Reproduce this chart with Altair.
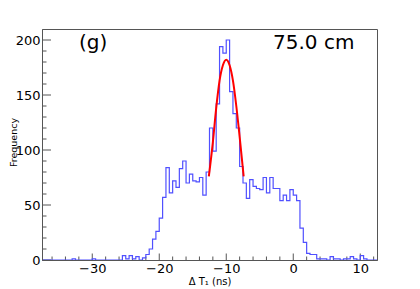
import altair as alt
import numpy as np
import pandas as pd

# ---- data ----
bin_width = 0.5
x_min, x_max = -37.5, 12.5
counts = [
    0, 0, 0, 0, 0, 0, 0, 0, 0, 1,
    0, 0, 0, 0, 0, 1, 0, 0, 0, 0,
    0, 0, 0, 0, 4, 1, 4, 1, 3, 0,
    2, 5, 10, 19, 26, 38, 57, 84, 61, 72,
    66, 83, 90, 70, 78, 72, 71, 75, 59, 80,
    120, 99, 142, 194, 188, 200, 153, 133, 120, 85,
    70, 56, 73, 67, 65, 64, 75, 61, 75, 65,
    65, 54, 59, 54, 64, 59, 54, 29, 16, 6,
    5, 5, 1, 1, 1, 0, 3, 1, 1, 0,
    1, 1, 3, 1, 0, 4, 1, 0, 0, 0,
]
fit_x = [-12.6, -12.0, -11.5, -11.0, -10.5, -10.0, -9.5, -9.0, -8.5, -8.0, -7.4]
fit_y = [76, 107, 138, 163, 177, 182, 177, 163, 140, 112, 76]

x_labels = [-30, -20, -10, 0, 10]
x_minor = [-36, -34, -32, -28, -26, -24, -22, -18, -16, -14, -12, -8, -6, -4, -2, 2, 4, 6, 8, 12]
y_labels = [0, 50, 100, 150, 200]
y_minor = [10, 20, 30, 40, 60, 70, 80, 90, 110, 120, 130, 140, 160, 170, 180, 190]

label_text = "(g)"
distance_text = "75.0 cm"
x_title = "Δ T₁ (ns)"
y_title = "Frequency"

# ---- tables ----
edges = x_min + bin_width * np.arange(len(counts) + 1)
hist_df = pd.DataFrame({"x": edges, "n": counts + [counts[-1]]})
fit_df = pd.DataFrame({"x": fit_x, "n": fit_y})

W, H = 335, 231
FONT = "DejaVu Sans"
AX = "#555555"

xs = alt.Scale(domain=[x_min, x_max], nice=False, zero=False)
ys = alt.Scale(domain=[0, 210], nice=False, zero=False)

x_axis = alt.Axis(values=x_labels, ticks=False, tickSize=0, grid=False,
                  labelFont=FONT, labelFontSize=13, labelColor="black", labelPadding=2,
                  domainColor=AX, domainWidth=1, zindex=1,
                  title=x_title, titleFont=FONT, titleFontSize=10, titleFontWeight="normal",
                  titleColor="black", titleY=24, titleBaseline="alphabetic")
y_axis = alt.Axis(values=y_labels, ticks=False, tickSize=0, grid=False,
                  labelFont=FONT, labelFontSize=13, labelColor="black", labelPadding=2,
                  domainColor=AX, domainWidth=1, zindex=1,
                  title=y_title, titleFont=FONT, titleFontSize=9.5, titleFontWeight="normal",
                  titleColor="black", titleAngle=270, titleX=-29, titleY=113,
                  titleAlign="center", titleBaseline="middle")

hist = alt.Chart(hist_df).mark_line(interpolate="step-after", color="#5050ff", strokeWidth=1.2).encode(
    x=alt.X("x:Q", scale=xs, axis=x_axis),
    y=alt.Y("n:Q", scale=ys, axis=y_axis),
)
fit = alt.Chart(fit_df).mark_line(interpolate="monotone", color="#ff0000", strokeWidth=2).encode(
    x=alt.X("x:Q", scale=xs, axis=x_axis),
    y=alt.Y("n:Q", scale=ys, axis=y_axis),
)

def yticks(vals, length):
    return alt.Chart(pd.DataFrame({"n": vals})).mark_rule(color=AX, strokeWidth=1).encode(
        y=alt.Y("n:Q", scale=ys, axis=y_axis), x=alt.value(0), x2=alt.value(length))

def xticks(vals, length):
    return alt.Chart(pd.DataFrame({"x": vals})).mark_rule(color=AX, strokeWidth=1).encode(
        x=alt.X("x:Q", scale=xs, axis=x_axis), y=alt.value(H), y2=alt.value(H - length))

texts = alt.Chart(pd.DataFrame({"t": [label_text, distance_text], "px": [37, 231], "py": [20, 20]})).mark_text(
    font=FONT, fontSize=20, align="left", baseline="alphabetic", color="black").encode(
    text="t:N", x=alt.X("px:Q", scale=None), y=alt.Y("py:Q", scale=None))

chart = alt.layer(
    yticks(y_labels, 9), yticks(y_minor, 4.5),
    xticks(x_labels, 6.5), xticks(x_minor, 3.5),
    hist, fit, texts,
).properties(
    width=W, height=H,
    autosize=alt.AutoSizeParams(type="none"),
    padding={"left": 34, "top": 21, "right": 27, "bottom": 28},
    background="white",
).configure_view(stroke=AX, strokeWidth=1)

chart.save("out.html", embed_options={"renderer": "svg", "actions": False})
